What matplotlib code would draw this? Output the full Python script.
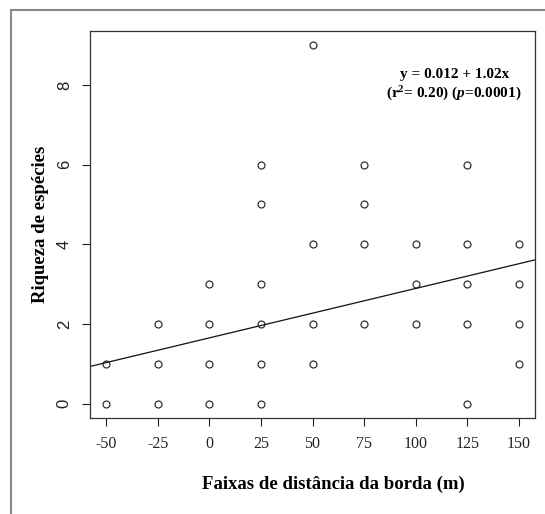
import matplotlib
matplotlib.use('Agg')
import matplotlib.pyplot as plt
from matplotlib.lines import Line2D

# points, grouped by distance band
bands = [-50, -25, 0, 25, 50, 75, 100, 125, 150]
richness = [
    [0, 1],
    [0, 1, 2],
    [0, 1, 2, 3],
    [0, 1, 2, 3, 5, 6],
    [1, 2, 4, 9],
    [2, 4, 5, 6],
    [2, 3, 4],
    [0, 2, 3, 4, 6],
    [1, 2, 3, 4],
]
# fitted line as drawn
intercept = 1.65
slope = 0.0124

xs = []
ys = []
for b, vals in zip(bands, richness):
    for v in vals:
        xs.append(b)
        ys.append(v)

plt.rcParams['mathtext.fontset'] = 'custom'
plt.rcParams['mathtext.rm'] = 'Liberation Serif:bold'
plt.rcParams['mathtext.bf'] = 'Liberation Serif:bold'
plt.rcParams['mathtext.it'] = 'Liberation Serif:italic:bold'

fig = plt.figure(figsize=(5.45, 5.14), dpi=100)
ax = fig.add_axes([0.165, 0.187, 0.817, 0.753])

ax.plot(xs, ys, 'o', mfc='none', mec='#333333', ms=5, mew=0.9)
xmin, xmax = -58, 158
ax.plot([xmin, xmax], [intercept + slope * xmin, intercept + slope * xmax],
        color='#111111', lw=0.9)

ax.set_xlim(xmin, xmax)
ax.set_ylim(-0.36, 9.36)
ax.set_xticks(bands)
ax.set_xticklabels(['-50', '-25', '0', '25', '50', '75', '100', '125', '150'],
                   family='Liberation Serif', fontsize=11.5)
ax.set_yticks([0, 2, 4, 6, 8])
ax.set_yticklabels(['0', '2', '4', '6', '8'], family='Liberation Sans',
                   fontsize=12, rotation=90, va='center')
ax.tick_params(axis='x', length=6, width=0.8, pad=7, colors='#222222')
ax.tick_params(axis='y', length=6, width=0.8, pad=7, colors='#222222')
for s in ax.spines.values():
    s.set_linewidth(0.9)
    s.set_color('#333333')

ax.set_xlabel('Faixas de distância da borda (m)', family='Liberation Serif',
              fontweight='bold', fontsize=13.5, labelpad=17)
ax.xaxis.label.set_x(0.546)
ax.set_ylabel('Riqueza de espécies', family='Liberation Serif',
              fontweight='bold', fontsize=13.5, labelpad=6)

ax.text(0.818, 0.886, 'y = 0.012 + 1.02x', transform=ax.transAxes,
        ha='center', va='center', family='Liberation Serif',
        fontweight='bold', fontsize=11)
ax.text(0.818, 0.836, r'(r$^{2}$= 0.20) ($\mathit{p}$=0.0001)',
        transform=ax.transAxes, ha='center', va='center',
        family='Liberation Serif', fontweight='bold', fontsize=11)

# grey outer frame (left and top edges only visible)
fig.add_artist(Line2D([11 / 545, 11 / 545], [0, 1 - 10 / 514],
                      transform=fig.transFigure, color='#888888', lw=1.5))
fig.add_artist(Line2D([11 / 545, 1], [1 - 10 / 514, 1 - 10 / 514],
                      transform=fig.transFigure, color='#888888', lw=1.5))

fig.savefig('out.png', dpi=100)
